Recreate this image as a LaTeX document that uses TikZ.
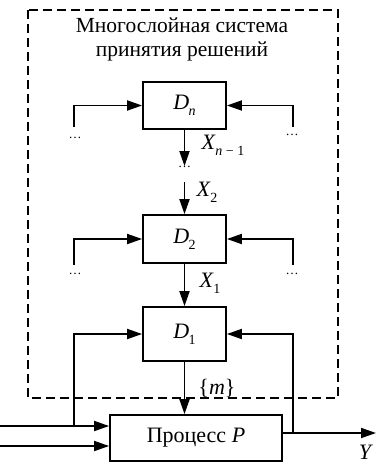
\documentclass[tikz,border=0pt]{standalone}
\usepackage{fontspec}
\setmainfont{Liberation Serif}
\usetikzlibrary{arrows.meta}
\newcommand{\sublab}[2]{\textit{#1}\kern-0.02em\raisebox{-0.28em}{\fontsize{14}{14}\selectfont #2}}
\begin{document}
\begin{tikzpicture}[x=1pt,y=-1pt,
  box/.style={draw,line width=1.8pt,inner sep=0pt,minimum width=83pt,font=\fontsize{22}{22}\selectfont},
  arr/.style={line width=1.8pt,-{Triangle[length=15pt,width=10pt]}},
  lab/.style={inner sep=0pt,font=\fontsize{22}{22}\selectfont},
  dotsn/.style={inner sep=0pt,font=\fontsize{13}{13}\selectfont}]
\useasboundingbox (0,0) rectangle (376,463);
% dashed frame
\draw[line width=1.6pt,dash pattern=on 9pt off 5pt] (28,10) rectangle (338,398);
\node[inner sep=0pt,align=center,font=\fontsize{21.5}{24}\selectfont] (title) at (182,39) {Многослойная система\\принятия решений};
% boxes
\node[box,minimum height=47pt] (Dn) at (184.5,105.5) {\sublab{D}{\textit{n}}};
\node[box,minimum height=48pt] (D2) at (184.5,239) {\sublab{D}{2}};
\node[box,minimum height=54pt] (D1) at (184.5,334) {\sublab{D}{1}};
\node[box,minimum width=172pt,minimum height=46pt] (P) at (196,438) {Процесс \textit{P}};
% dots
\node[dotsn] (mid) at (184.5,167) {\dots};
\node[dotsn] (dnl) at (75,138) {\dots};
\node[dotsn] (dnr) at (292,135) {\dots};
\node[dotsn] (d2l) at (75,274) {\dots};
\node[dotsn] (d2r) at (292,274) {\dots};
% free ends
\coordinate (cnl) at (74,127);
\coordinate (cnr) at (293,127);
\coordinate (c2l) at (74,265);
\coordinate (c2r) at (293,265);
\coordinate (x2s) at (184.5,182);
\coordinate (in1) at (0,426);
\coordinate (in2) at (0,446);
\coordinate (yout) at (376,433);
\coordinate (br1) at (74,426);
\coordinate (br2) at (293,433);
% side inputs
\draw[arr] (cnl) |- (Dn.west);
\draw[arr] (cnr) |- (Dn.east);
\draw[arr] (c2l) |- (D2.west);
\draw[arr] (c2r) |- (D2.east);
% vertical chain
\draw[arr] (Dn.south) -- (mid.north);
\draw[arr] (x2s) -- (D2.north);
\draw[arr] (D2.south) -- (D1.north);
\draw[arr] (D1.south) -- (D1.south |- P.north);
% labels
\node[lab] (xn) at (223,145) {\sublab{X}{\textit{n} − 1}};
\node[lab] (x2) at (207,192) {\sublab{X}{2}};
\node[lab] (x1) at (210,283) {\sublab{X}{1}};
\node[lab] (m) at (217,388) {\{\textit{m}\}};
\node[lab] (y) at (366,452) {\textit{Y}};
% process inputs and outputs
\draw[arr] (in1) -- (in1 -| P.west);
\draw[arr] (in2) -- (in2 -| P.west);
\draw[arr] (yout -| P.east) -- (yout);
\draw[arr] (br1) |- (D1.west);
\draw[arr] (br2) |- (D1.east);
\end{tikzpicture}
\end{document}
